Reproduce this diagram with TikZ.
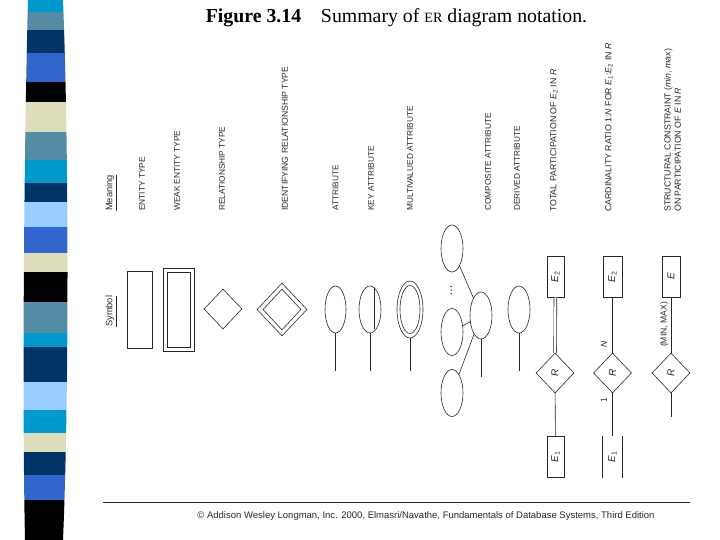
\documentclass[tikz,border=0pt]{standalone}
\usepackage{fontspec}
\setmainfont{Liberation Serif}
\setsansfont{Liberation Sans}
\usepackage{tikz}
\usetikzlibrary{shapes.geometric,calc}
\definecolor{ink}{RGB}{40,40,40}
\definecolor{bcyan}{RGB}{0,153,204}
\definecolor{bgrey}{RGB}{84,140,166}
\definecolor{bnavy}{RGB}{0,51,102}
\definecolor{broyal}{RGB}{51,102,204}
\definecolor{bbeige}{RGB}{221,221,187}
\definecolor{blight}{RGB}{153,204,255}
\newcommand{\Esub}[1]{\textit{E}\textsubscript{#1}}
\newcommand{\mtext}[3]{\node[mean] (#1) at (#2,211) {#3};}
\tikzset{
  sym/.style={draw=ink, line width=0.6bp, inner sep=0pt},
  attr/.style={sym, ellipse, minimum width=21bp, minimum height=47bp},
  ebox/.style={sym, rectangle, rotate=90, minimum width=41bp, minimum height=18bp,
      font=\sffamily\fontsize{10bp}{11bp}\selectfont, text=ink},
  rdia/.style={sym, diamond, rotate=90, minimum width=40bp, minimum height=38bp,
      font=\sffamily\fontsize{10bp}{11bp}\selectfont, text=ink},
  lnk/.style={ink, line width=0.6bp},
  mean/.style={rotate=90, anchor=west, inner sep=0pt, text=ink,
      font=\sffamily\fontsize{8.3bp}{9.6bp}\selectfont},
  wmean/.style={mean, font=\sffamily\fontsize{8.8bp}{10.2bp}\selectfont},
  head/.style={mean, font=\sffamily\fontsize{9.3bp}{11bp}\selectfont},
  rlab/.style={rotate=90, inner sep=0pt, text=ink, font=\sffamily\fontsize{8.6bp}{10bp}\selectfont},
}
\begin{document}
\begin{tikzpicture}[x=1bp, y=-1bp]
\useasboundingbox (0,0) rectangle (720,540);
% striped side bar
\begin{scope}
  \clip (28,0) .. controls (24,150) and (22,400) .. (25,540) -- (63,540)
        .. controls (69,400) and (69,150) .. (63,0) -- cycle;
  \foreach \ya/\yb/\c in {0/12/bcyan, 12/30/bgrey, 30/53/bnavy, 53/82/broyal,
      82/102/black, 102/132/bbeige, 132/160/bgrey, 160/183/bcyan, 183/202/bnavy,
      202/227/blight, 227/253/broyal, 253/272/bbeige, 272/302/black, 302/333/bgrey,
      333/347/bcyan, 347/382/bnavy, 382/410/blight, 410/433/bcyan, 433/452/bbeige,
      452/475/bnavy, 475/500/broyal, 500/540/black}
    \fill[\c] (0,\ya) rectangle (80,\yb);
\end{scope}

\node (title) at (396.5,18) {\fontsize{19.8bp}{22bp}\selectfont
  \textbf{Figure 3.14}\quad Summary of {\fontsize{14.2bp}{22bp}\selectfont ER} diagram notation.};

% meanings
\node[head] (meaning) at (111,211) {\underline{Meaning}};
\mtext{mEnt}{142}{ENTITY TYPE}
\mtext{mWeak}{177}{WEAK ENTITY TYPE}
\mtext{mRel}{222}{RELATIONSHIP TYPE}
\node[mean, font=\sffamily\fontsize{8.6bp}{9.6bp}\selectfont] (mIdRel) at (285,211) {IDENTIFYING RELATIONSHIP TYPE};
\mtext{mAtt}{335.5}{ATTRIBUTE}
\mtext{mKey}{371}{KEY ATTRIBUTE}
\mtext{mMulti}{410}{MULTIVALUED ATTRIBUTE}
\mtext{mComp}{488}{COMPOSITE ATTRIBUTE}
\mtext{mDer}{517}{DERIVED ATTRIBUTE}
\node[wmean] (mTotal) at (554,212) {TOTAL PARTICIPATION OF \Esub{2} IN \textit{R}};
\node[wmean] (mCard) at (609,212) {CARDINALITY RATIO 1:\textit{N} FOR \Esub{1}:\Esub{2} IN \textit{R}};
\node[wmean, align=left] (mStruct) at (672.5,212)
  {STRUCTURAL CONSTRAINT (\textit{min}, \textit{max})\\ON PARTICIPATION OF \textit{E} IN \textit{R}};

% symbols
\node[head] (symbol) at (111,327) {\underline{Symbol}};
\node[sym, minimum width=25bp, minimum height=77bp] (ent) at (139.5,309.5) {};
\node[sym, minimum width=31bp, minimum height=83bp] (weak) at (178.5,309.5) {};
\node[sym, minimum width=23bp, minimum height=75bp] (weakin) at (178.5,309.5) {};
\node[sym, diamond, minimum width=38bp, minimum height=40bp] (rel) at (223,309) {};
\node[sym, diamond, minimum width=50bp, minimum height=53bp] (idrel) at (282,309.5) {};
\node[sym, diamond, minimum width=38bp, minimum height=41bp] (idrelin) at (282,309.5) {};

\node[attr] (att) at (335.5,309.5) {};
\coordinate (attEnd) at (335.5,371);
\draw[lnk] (att) -- (attEnd);

\node[attr, minimum width=22bp] (key) at (370,309.5) {};
\coordinate (keyEnd) at (370,371);
\draw[lnk] (key) -- (keyEnd);
\draw[lnk] ([xshift=4bp,yshift=22bp]key.center) -- ([xshift=4bp,yshift=-19bp]key.center);

\node[sym, ellipse, minimum width=26bp, minimum height=57bp] (multi) at (410,309.5) {};
\node[sym, ellipse, minimum width=20bp, minimum height=48bp] (multiin) at (410,309.5) {};
\coordinate (multiEnd) at (410,371);
\draw[lnk] (multi) -- (multiEnd);

\node[attr, minimum width=22bp] (compA) at (452,248.5) {};
\node[attr, minimum width=22bp] (compB) at (452,332) {};
\node[attr, minimum width=22bp] (compC) at (452,393) {};
\node[attr, minimum width=22bp] (comp) at (481,315.5) {};
\coordinate (compDots) at (451,290);
\foreach \d in {-3.5,0,3.5}
  \fill[ink] ([yshift=\d bp]compDots) circle (0.75bp);
\coordinate (compEnd) at (481,377);
\draw[lnk] (compA) -- (comp);
\draw[lnk] (compB) -- (comp);
\draw[lnk] (compC) -- (comp);
\draw[lnk] (comp) -- (compEnd);

\node[attr, minimum width=22bp] (der) at (519,309.5) {};
\coordinate (derEnd) at (519,371);
\draw[lnk] (der) -- (derEnd);

% total participation
\node[ebox, minimum height=17bp] (tE2) at (555.5,276.5) {\Esub{2}};
\node[rdia] (tR) at (555,373) {\textit{R}};
\node[ebox, minimum height=17bp] (tE1) at (555.5,457) {\Esub{1}};
\draw[lnk, double=white, double distance=2.2bp] (tE2) -- (tR);
\draw[lnk] (tR) -- (tE1);

% cardinality ratio
\node[ebox, minimum height=19bp] (cE2) at (612.5,276.5) {\Esub{2}};
\node[rdia] (cR) at (612.5,373) {\textit{R}};
\node[ebox, minimum height=19bp, draw=none] (cE1) at (612.5,457) {\Esub{1}};
\draw[lnk] (cE1.north west) -- (cE1.north east);
\draw[lnk] (cE1.south west) -- (cE1.south east);
\draw[lnk] (cE2) -- (cR);
\draw[lnk] (cR) -- (cE1);
\node[rlab] (cN) at (604,344) {\textit{N}};
\node[rlab] (cOne) at (604,400) {1};

% structural constraint
\node[ebox] (sE) at (671,276.5) {\textit{E}};
\node[rdia] (sR) at (671,373) {\textit{R}};
\coordinate (sEnd) at (671,417);
\draw[lnk] (sE) -- (sR);
\draw[lnk] (sR) -- (sEnd);
\node[rlab] (sMinMax) at (664.5,324.5) {(MIN, MAX)};

% footer
\coordinate (ruleL) at (103,502);
\coordinate (ruleR) at (690,502);
\draw[lnk] (ruleL) -- (ruleR);
\node[text=ink, font=\sffamily\fontsize{9.5bp}{11bp}\selectfont] (credit) at (426,516)
  {\textcopyright{} Addison Wesley Longman, Inc. 2000, Elmasri/Navathe, Fundamentals of Database Systems, Third Edition};
\end{tikzpicture}
\end{document}
